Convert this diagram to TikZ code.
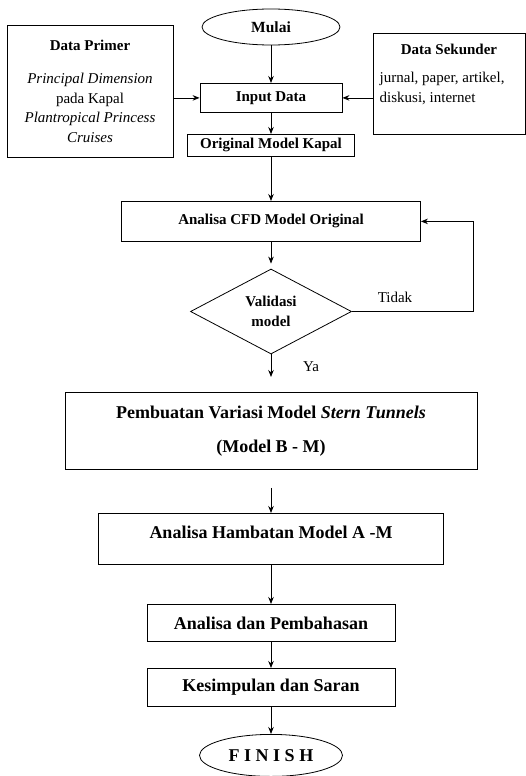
\documentclass[tikz,border=0pt]{standalone}
\usepackage{fontspec}
\setmainfont{Liberation Serif}
\usetikzlibrary{shapes.geometric,calc,arrows.meta}
\tikzset {>={Stealth[length=7pt,width=5.5pt]}}
\tikzset{
  kotak/.style={draw, rectangle, inner sep=0pt, font=\fontsize{15}{19.5}\selectfont\bfseries},
  besar/.style={kotak, font=\fontsize{18}{22}\selectfont\bfseries},
  oval/.style={draw, ellipse, inner sep=0pt},
  biasa/.style={font=\fontsize{15}{20}\selectfont},
}

\begin{document}
\begin{tikzpicture}[x=1pt,y=-1pt,line width=.8pt]
\useasboundingbox (0,0) rectangle (526,776);
\node[oval, minimum width=138pt, minimum height=36pt, font=\fontsize{15.5}{19}\selectfont\bfseries] (mulai) at (271,27) {Mulai};
\node[kotak, minimum width=142pt, minimum height=29pt, anchor=north] (input) at (271,83) {Input Data};
\node[kotak, minimum width=167pt, minimum height=22pt, anchor=north] (ori) at (271,134) {Original Model Kapal};
\node[kotak, font=\fontsize{15}{19.5}\selectfont, align=center, minimum width=166pt, minimum height=132pt] (primer) at (90,91)
  {\textbf{Data Primer}\\[14pt] \textit{Principal Dimension}\\ pada Kapal\\ \textit{Plantropical Princess}\\ \textit{Cruises}};
\node[kotak, minimum width=152pt, minimum height=101pt] (sekunder) at (449,83.5) {};
\node[biasa, font=\fontsize{15}{20}\selectfont\bfseries] (sektitle) at (449,49) {Data Sekunder};
\node[biasa, anchor=west, align=left] (sekisi) at (376,88) {jurnal, paper, artikel,\\ diskusi, internet};
\node[kotak, minimum width=299pt, minimum height=40pt, anchor=north] (cfd) at (271,201) {Analisa CFD Model Original};
\node[kotak, diamond, aspect=1.9, minimum width=161pt, minimum height=85pt, align=center] (val) at (271,311.5) {Validasi\\[1pt] model};
\node[biasa] (tidak) at (395,297) {Tidak};
\node[biasa] (ya) at (311,367) {Ya};
\node[besar, minimum width=412pt, minimum height=77pt, anchor=north, align=center] (buat) at (271,392)
  {Pembuatan Variasi Model \textit{Stern Tunnels}\\[12pt] (Model B - M)};
\node[besar, minimum width=345pt, text height=25pt, text depth=26pt, anchor=north] (hambat) at (271,513) {Analisa Hambatan Model A -M};
\node[besar, minimum width=248pt, minimum height=37pt, anchor=north] (bahas) at (271,604) {Analisa dan Pembahasan};
\node[besar, minimum width=248pt, minimum height=38pt, anchor=north] (simpul) at (271,668) {Kesimpulan dan Saran};
\node[oval, minimum width=143pt, minimum height=42pt, font=\fontsize{18}{22}\selectfont\bfseries, anchor=north] (finish) at (271,734) {F I N I S H};

\draw[->] (mulai) -- (input);
\draw[->] (input) -- (ori);
\draw[->] (ori) -- (cfd);
\draw[->] (primer.east |- input) -- (input);
\draw[->] (sekunder.west |- input) -- (input);
\draw[->, shorten >=5pt] (cfd) -- (val);
\draw[->] (val.east) -| ($(cfd.east)+(52,0)$) -- (cfd.east);
\draw[->, shorten >=15pt] (val) -- (buat);
\draw[->, shorten <=18pt] (buat) -- (hambat);
\draw[->] (hambat) -- (bahas);
\draw[->] (bahas) -- (simpul);
\draw[->] (simpul) -- (finish);
\end{tikzpicture}
\end{document}
